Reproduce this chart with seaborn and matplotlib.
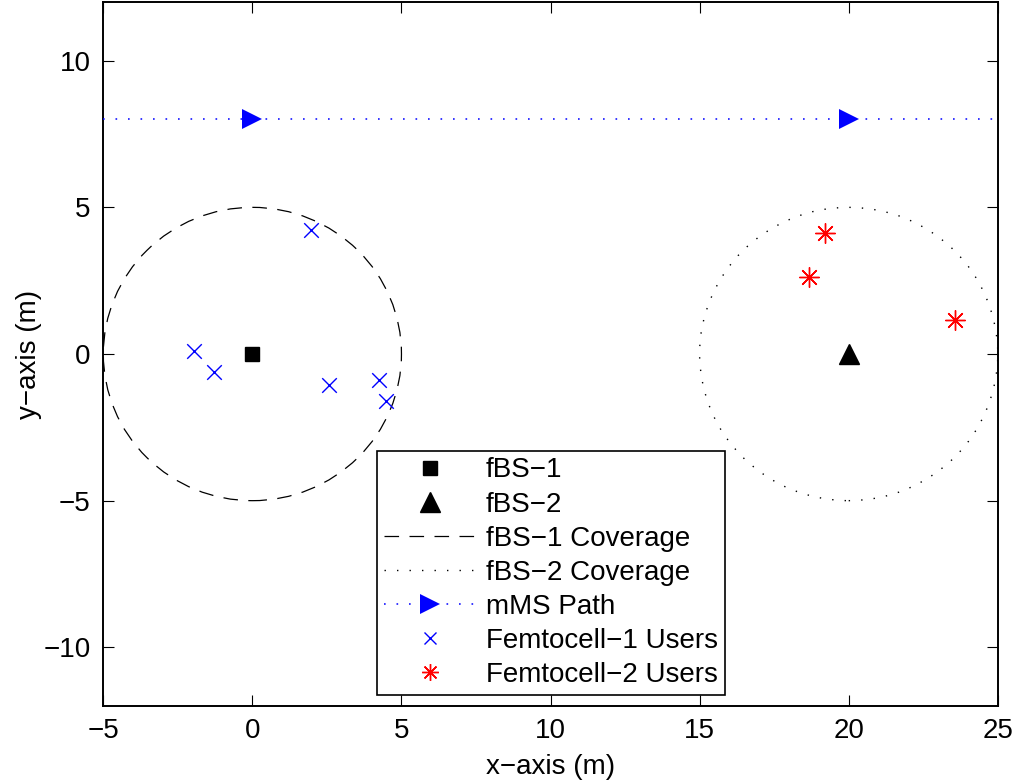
import matplotlib
matplotlib.use("Agg")
import matplotlib.pyplot as plt
from matplotlib.lines import Line2D
from matplotlib.patches import Circle
import numpy as np
import pandas as pd
import seaborn as sns

# base stations
BS_NAMES = ["fBS-1", "fBS-2"]
BS_X = [0.0, 20.0]
BS_Y = [0.0, 0.0]
COVERAGE_RADIUS = [5.0, 5.0]

# mobile MS path (y = 8), markers at the two fBS x-positions
PATH_X = [-5.0, 0.0, 20.0, 25.0]
PATH_Y = [8.0, 8.0, 8.0, 8.0]
PATH_MARKED = [1, 2]

# femtocell users
FEM1_X = [-1.96, -1.29, 1.95, 2.56, 4.26, 4.49]
FEM1_Y = [0.10, -0.61, 4.23, -1.06, -0.90, -1.61]
FEM2_X = [19.22, 18.66, 23.55]
FEM2_Y = [4.11, 2.63, 1.17]

X_TICKS = [-5, 0, 5, 10, 15, 20, 25]
Y_TICKS = [-10, -5, 0, 5, 10]

sns.set_theme(style="white")
plt.rcParams["font.family"] = ["Liberation Sans", "DejaVu Sans"]
plt.rcParams["lines.scale_dashes"] = False
plt.rcParams["axes.unicode_minus"] = True
plt.rcParams["text.color"] = "black"
plt.rcParams["axes.labelcolor"] = "black"

FS = 20
dashed = (0, (10.5, 7.5))
dotted = (0, (1.0, 8.0))
path_style = (0, (1.2, 7.8))

fig = plt.figure(figsize=(10.18, 7.82), dpi=100)
ax = fig.add_axes([0.1015, 0.0972, 0.8786, 0.9002])

# coverage circles
cov1 = Circle((BS_X[0], BS_Y[0]), COVERAGE_RADIUS[0], fill=False, edgecolor="black",
              linewidth=0.9, linestyle=dashed)
cov2 = Circle((BS_X[1], BS_Y[1]), COVERAGE_RADIUS[1], fill=False, edgecolor="black",
              linewidth=1.0, linestyle=dotted)
ax.add_patch(cov1)
ax.add_patch(cov2)

# path
ax.plot(PATH_X, PATH_Y, color="blue", linestyle=path_style, linewidth=1.1,
        marker=">", markersize=14, markevery=PATH_MARKED, markeredgewidth=0, zorder=3)

# users
fem1 = pd.DataFrame({"x": FEM1_X, "y": FEM1_Y})
fem2 = pd.DataFrame({"x": FEM2_X, "y": FEM2_Y})
sns.scatterplot(data=fem1, x="x", y="y", ax=ax, marker="x", s=110, color="blue",
                linewidth=1.0, zorder=4, legend=False)
sns.scatterplot(data=fem2, x="x", y="y", ax=ax, marker=(8, 2, 0), s=200, color="red",
                linewidth=1.0, zorder=4, legend=False)

# base stations
ax.plot(BS_X[0], BS_Y[0], linestyle="none", marker="s", markersize=10, color="black", zorder=5)
ax.plot(BS_X[1], BS_Y[1], linestyle="none", marker="^", markersize=14, color="black", zorder=5)

ax.set_xlim(X_TICKS[0], X_TICKS[-1])
ax.set_ylim(-12, 12)
ax.set_xticks(X_TICKS)
ax.set_yticks(Y_TICKS)
ax.tick_params(direction="in", length=8, width=0.8, labelsize=FS, top=True, right=True,
               bottom=True, left=True, pad=9, colors="black")
for sp in ax.spines.values():
    sp.set_linewidth(1.4)
    sp.set_color("black")
ax.set_xlabel("x\u2212axis (m)", fontsize=FS, labelpad=7)
ax.set_ylabel("y\u2212axis (m)", fontsize=FS, labelpad=1)

handles = [
    Line2D([0], [0], linestyle="none", marker="s", markersize=10, color="black"),
    Line2D([0], [0], linestyle="none", marker="^", markersize=14, color="black"),
    Line2D([0], [0], color="black", linewidth=0.9, linestyle=dashed),
    Line2D([0], [0], color="black", linewidth=1.0, linestyle=dotted),
    Line2D([0], [0], color="blue", linewidth=1.1, linestyle=path_style,
           marker=">", markersize=14, markeredgewidth=0),
    Line2D([0], [0], linestyle="none", marker="x", markersize=9, color="blue", markeredgewidth=1.0),
    Line2D([0], [0], linestyle="none", marker=(8, 2, 0), markersize=12, color="red", markeredgewidth=1.0),
]
labels = ["fBS\u22121", "fBS\u22122", "fBS\u22121 Coverage", "fBS\u22122 Coverage",
          "mMS Path", "Femtocell\u22121 Users", "Femtocell\u22122 Users"]
leg = ax.legend(handles, labels, loc="lower left", bbox_to_anchor=(0.306, 0.016),
                fontsize=FS, frameon=True, fancybox=False, framealpha=1,
                edgecolor="black", handlelength=3.31, handletextpad=0.36,
                labelspacing=0.29, borderpad=0.25, borderaxespad=0)
leg.get_frame().set_linewidth(1.2)

fig.savefig("out.png", dpi=100)
